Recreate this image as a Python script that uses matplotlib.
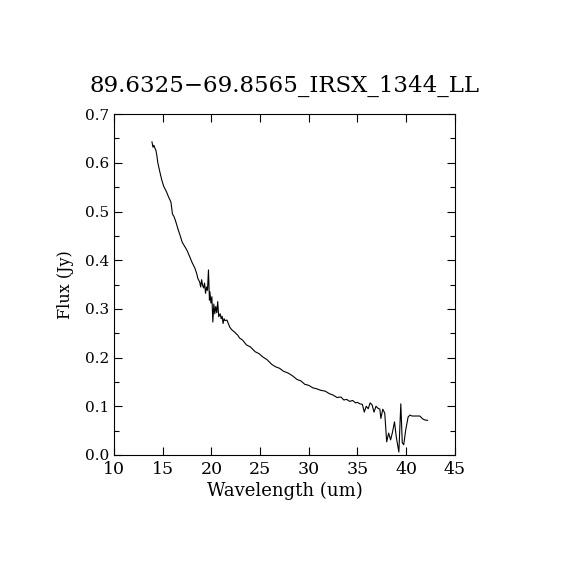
import matplotlib
matplotlib.use('Agg')
import matplotlib.pyplot as plt
from matplotlib.ticker import MultipleLocator

title = '89.6325\u221269.8565_IRSX_1344_LL'

wavelength = [13.9, 14.0, 14.1, 14.2, 14.3, 14.4, 14.5, 14.7, 14.9, 15.1, 15.4, 15.6,
              15.85, 16.0, 16.15, 16.3, 16.6, 16.8, 17.0, 17.3, 17.5, 17.8, 18.0,
              18.3, 18.5, 18.6, 18.8, 18.9, 19.0, 19.1, 19.2, 19.3, 19.4, 19.5,
              19.6, 19.7, 19.8, 19.85, 19.95, 20.05, 20.15, 20.25, 20.35, 20.45,
              20.55, 20.65, 20.75, 20.9, 21.0, 21.1, 21.2, 21.3, 21.4, 21.6, 21.9,
              22.1, 22.4, 22.7, 22.9, 23.2, 23.6, 24.0, 24.5, 24.9, 25.3, 25.7,
              26.2, 26.6, 27.0, 27.4, 27.9, 28.3, 28.8, 29.2, 29.6, 30.0, 30.4,
              30.8, 31.2, 31.7, 32.1, 32.5, 32.9, 33.3, 33.6, 33.9, 34.2, 34.5,
              34.8, 35.0, 35.25, 35.5, 35.7, 35.9, 36.1, 36.3, 36.5, 36.7, 36.9,
              37.1, 37.3, 37.4, 37.6, 37.8, 38.0, 38.2, 38.4, 38.6, 38.8, 39.0,
              39.25, 39.45, 39.6, 39.75, 39.95, 40.2, 40.4, 40.6, 41.0, 41.4,
              41.7, 41.9, 42.2]

flux = [0.643, 0.632, 0.636, 0.630, 0.626, 0.615, 0.600, 0.582, 0.565, 0.552, 0.540,
        0.530, 0.519, 0.495, 0.490, 0.482, 0.462, 0.450, 0.437, 0.427, 0.420,
        0.406, 0.396, 0.384, 0.372, 0.363, 0.355, 0.345, 0.360, 0.348, 0.343,
        0.353, 0.332, 0.345, 0.338, 0.380, 0.318, 0.335, 0.312, 0.325, 0.273,
        0.310, 0.290, 0.305, 0.292, 0.315, 0.284, 0.290, 0.280, 0.285, 0.270,
        0.280, 0.276, 0.277, 0.262, 0.257, 0.252, 0.246, 0.240, 0.236, 0.226,
        0.222, 0.212, 0.208, 0.201, 0.196, 0.186, 0.181, 0.178, 0.172, 0.168,
        0.163, 0.155, 0.152, 0.145, 0.143, 0.138, 0.136, 0.133, 0.131, 0.126,
        0.123, 0.118, 0.119, 0.113, 0.114, 0.110, 0.112, 0.107, 0.108, 0.105,
        0.104, 0.088, 0.100, 0.095, 0.107, 0.103, 0.088, 0.100, 0.096, 0.094,
        0.075, 0.094, 0.086, 0.027, 0.045, 0.031, 0.047, 0.068, 0.035, 0.006,
        0.105, 0.025, 0.021, 0.051, 0.078, 0.082, 0.080, 0.080, 0.080, 0.074,
        0.072, 0.071]

plt.rcParams['font.family'] = ['DejaVu Serif']

fig = plt.figure(figsize=(5.7, 5.7), dpi=100)
ax = fig.add_axes([0.2, 0.2018, 0.598, 0.598])
ax.plot(wavelength, flux, color='black', linewidth=0.8)

ax.set_xlim(10, 45)
ax.set_ylim(0, 0.7)
ax.xaxis.set_major_locator(MultipleLocator(5))
ax.yaxis.set_major_locator(MultipleLocator(0.1))
ax.yaxis.set_minor_locator(MultipleLocator(0.05))
ax.yaxis.set_major_formatter(plt.FormatStrFormatter('%.1f'))
ax.tick_params(which='both', direction='in', top=True, right=True, labelsize=11)
ax.tick_params(which='major', length=6, width=0.8)
ax.tick_params(which='minor', length=3.5, width=0.8)
ax.tick_params(axis='x', labelsize=12.5, pad=4)
for s in ax.spines.values():
    s.set_linewidth(0.8)

ax.set_xlabel('Wavelength (um)', fontsize=13, labelpad=3)
ax.set_ylabel('Flux (Jy)', fontsize=11.5, labelpad=8)
ax.set_title(title, fontsize=16.5, pad=16)

fig.savefig('out.png', dpi=100)
